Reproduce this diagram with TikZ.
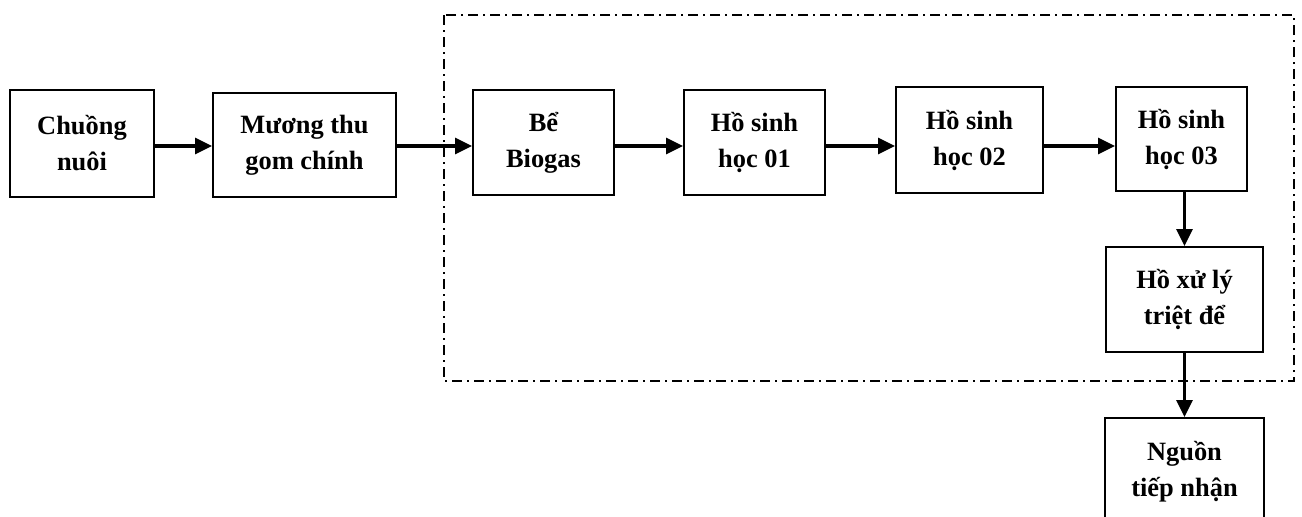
\documentclass[tikz,border=0pt]{standalone}
\usepackage{fontspec}
\setmainfont{Liberation Serif}
\usetikzlibrary{arrows.meta}

\tikzset{
  stage/.style={draw, line width=1pt, rectangle, align=center, inner sep=0pt,
    font=\fontsize{13.2}{18}\selectfont\bfseries},
  flow/.style={line width=1.6pt, -{Triangle[length=8.5pt,width=8pt]}},
  zone/.style={line width=1pt, dash pattern=on 5pt off 2.5pt on 1pt off 2.5pt}
}

\begin{document}
\begin{tikzpicture}[x=0.5pt, y=-0.5pt]
  \clip (0,0) rectangle (1302,516);
  \fill[white] (0,0) rectangle (1302,516);

  % treatment zone
  \draw[zone] (444,15) rectangle (1294,381);

  % process stages
  \node[stage, minimum width=72pt,   minimum height=53.5pt] (chuong) at (82,143.5)   {Chuồng\\nuôi};
  \node[stage, minimum width=91.5pt, minimum height=52pt]   (muong)  at (304.5,145)  {Mương thu\\gom chính};
  \node[stage, minimum width=70.5pt, minimum height=52.5pt] (biogas) at (543.5,142.5){Bể\\Biogas};
  \node[stage, minimum width=70.5pt, minimum height=52.5pt] (ho1)    at (754.5,142.5){Hồ sinh\\học 01};
  \node[stage, minimum width=73.5pt, minimum height=53pt]   (ho2)    at (969.5,140)  {Hồ sinh\\học 02};
  \node[stage, minimum width=65.5pt, minimum height=52pt]   (ho3)    at (1181.5,139) {Hồ sinh\\học 03};
  \node[stage, minimum width=78.5pt, minimum height=52.5pt] (triet)  at (1184.5,299.5){Hồ xử lý\\triệt để};
  \node[stage, minimum width=79.5pt, minimum height=54pt, anchor=north] (nguon) at (1184.5,417) {Nguồn\\tiếp nhận};

  % level of the main horizontal flow
  \coordinate (row) at (0,146);

  % flow connectors
  \draw[flow] (chuong.east |- row) -- (muong.west |- row);
  \draw[flow] (muong.east |- row) -- (biogas.west |- row);
  \draw[flow] (biogas.east |- row) -- (ho1.west |- row);
  \draw[flow] (ho1.east |- row) -- (ho2.west |- row);
  \draw[flow] (ho2.east |- row) -- (ho3.west |- row);
  \draw[flow] (triet.north |- ho3.south) -- (triet.north);
  \draw[flow] (triet.south) -- (nguon.north);
\end{tikzpicture}
\end{document}
